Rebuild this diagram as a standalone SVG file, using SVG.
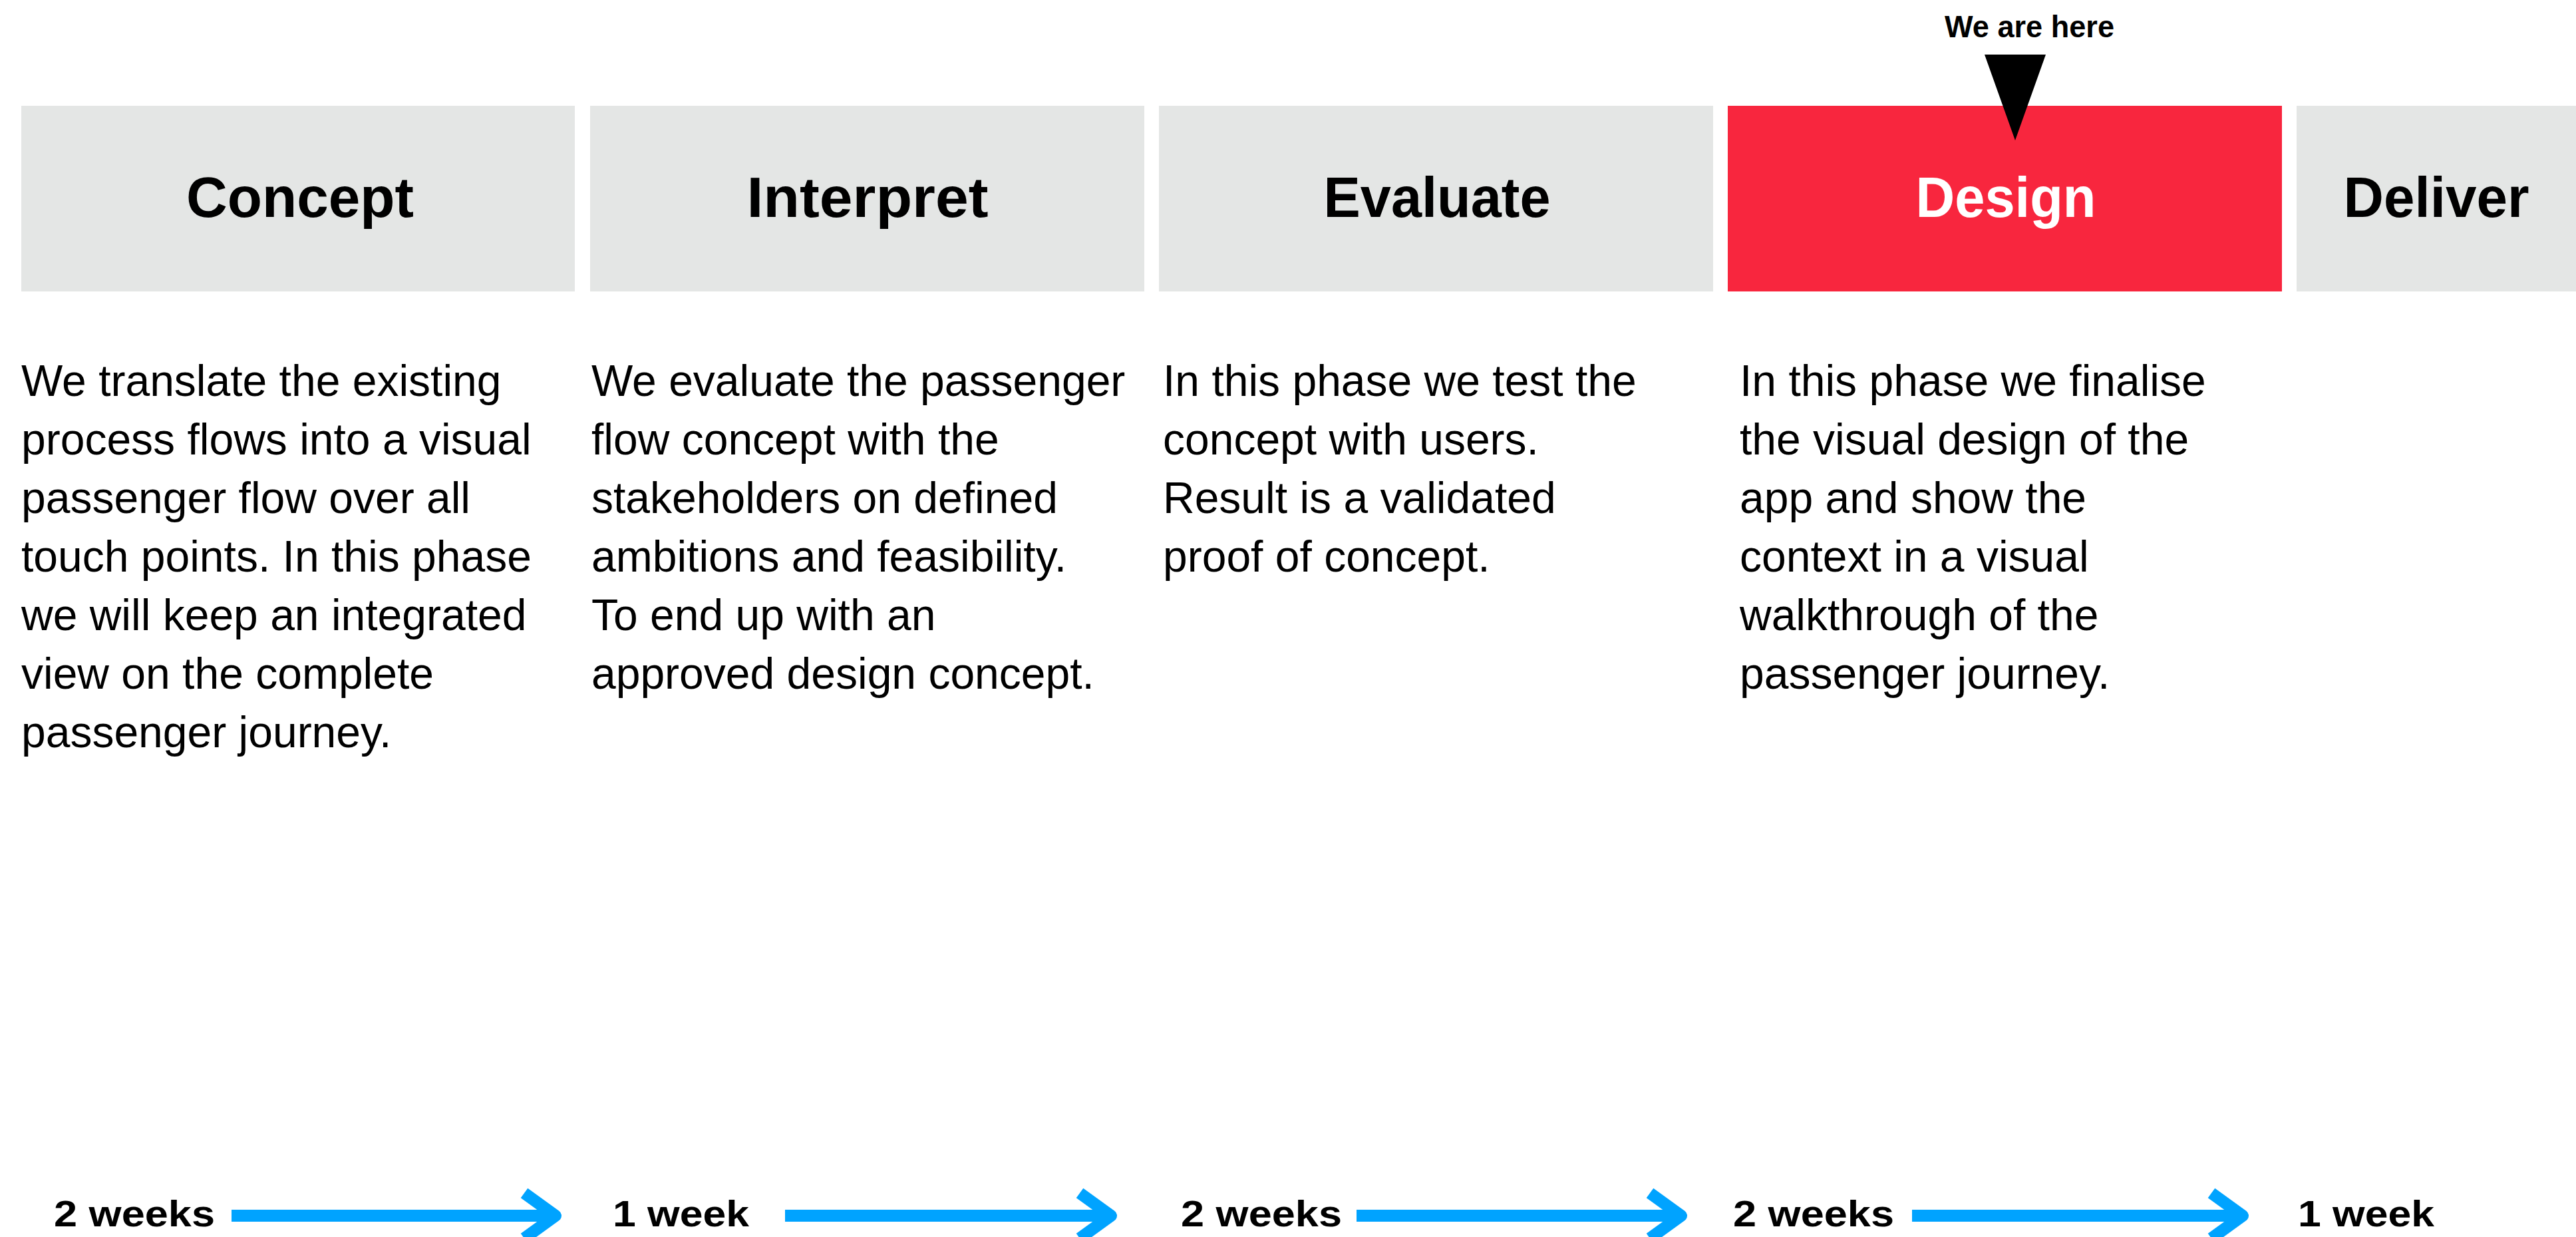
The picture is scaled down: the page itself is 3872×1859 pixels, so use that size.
<svg xmlns="http://www.w3.org/2000/svg" width="3872" height="1859" viewBox="0 0 3872 1859">
<defs>
<style>
.box{fill:#e4e6e5}
.active{fill:#f8263e}
.hdr{font-family:"Liberation Sans",Arial,sans-serif;font-weight:bold;font-size:86px;fill:#000;text-anchor:middle}
.hdrw{fill:#fff}
.body{font-family:"Liberation Sans",Arial,sans-serif;font-size:66px;fill:#000}
.dur{font-family:"Liberation Sans",Arial,sans-serif;font-weight:bold;font-size:56px;fill:#000}
.conn{fill:none;stroke:#00a3ff;stroke-width:18;stroke-linejoin:round;stroke-linecap:butt}
</style>
</defs>
<rect width="3872" height="1859" fill="#fff"/>
<g id="node-concept">
<rect class="box" x="32" y="159" width="832" height="279"/>
<text class="hdr" x="451" y="326" textLength="342" lengthAdjust="spacingAndGlyphs">Concept</text>
<text class="body"><tspan x="32" y="595">We translate the existing</tspan><tspan x="32" y="683">process flows into a visual</tspan><tspan x="32" y="771">passenger flow over all</tspan><tspan x="32" y="859">touch points. In this phase</tspan><tspan x="32" y="947">we will keep an integrated</tspan><tspan x="32" y="1035">view on the complete</tspan><tspan x="32" y="1123">passenger journey.</tspan></text>
</g>
<g id="node-interpret">
<rect class="box" x="887" y="159" width="833" height="279"/>
<text class="hdr" x="1304" y="326" textLength="363" lengthAdjust="spacingAndGlyphs">Interpret</text>
<text class="body"><tspan x="889" y="595">We evaluate the passenger</tspan><tspan x="889" y="683">flow concept with the</tspan><tspan x="889" y="771">stakeholders on defined</tspan><tspan x="889" y="859">ambitions and feasibility.</tspan><tspan x="889" y="947">To end up with an</tspan><tspan x="889" y="1035">approved design concept.</tspan></text>
</g>
<g id="node-evaluate">
<rect class="box" x="1742" y="159" width="833" height="279"/>
<text class="hdr" x="2160" y="326" textLength="341" lengthAdjust="spacingAndGlyphs">Evaluate</text>
<text class="body"><tspan x="1748" y="595">In this phase we test the</tspan><tspan x="1748" y="683">concept with users.</tspan><tspan x="1748" y="771">Result is a validated</tspan><tspan x="1748" y="859">proof of concept.</tspan></text>
</g>
<g id="node-design">
<rect class="active" x="2597" y="159" width="833" height="279"/>
<text class="hdr hdrw" x="3015" y="326" textLength="271" lengthAdjust="spacingAndGlyphs">Design</text>
<text class="body"><tspan x="2615" y="595">In this phase we finalise</tspan><tspan x="2615" y="683">the visual design of the</tspan><tspan x="2615" y="771">app and show the</tspan><tspan x="2615" y="859">context in a visual</tspan><tspan x="2615" y="947">walkthrough of the</tspan><tspan x="2615" y="1035">passenger journey.</tspan></text>
</g>
<g id="node-deliver">
<rect class="box" x="3452" y="159" width="420" height="279"/>
<text class="hdr" x="3662" y="326" textLength="279" lengthAdjust="spacingAndGlyphs">Deliver</text>
</g>
<g id="marker-here">
<text class="dur" x="2923" y="56" font-size="47" style="font-size:47px" textLength="255" lengthAdjust="spacingAndGlyphs">We are here</text>
<polygon points="2983,82 3075,82 3029,211" fill="#000"/>
</g>
<g id="durations">
<text class="dur" x="81" y="1843" textLength="242" lengthAdjust="spacingAndGlyphs">2 weeks</text>
<text class="dur" x="921" y="1843" textLength="205" lengthAdjust="spacingAndGlyphs">1 week</text>
<text class="dur" x="1775" y="1843" textLength="242" lengthAdjust="spacingAndGlyphs">2 weeks</text>
<text class="dur" x="2605" y="1843" textLength="242" lengthAdjust="spacingAndGlyphs">2 weeks</text>
<text class="dur" x="3454" y="1843" textLength="205" lengthAdjust="spacingAndGlyphs">1 week</text>
</g>
<g id="connectors">
<path class="conn" d="M348,1827 H833 M788,1793 L835,1827 L788,1861"/>
<path class="conn" d="M1180,1827 H1668 M1623,1793 L1670,1827 L1623,1861"/>
<path class="conn" d="M2039,1827 H2525 M2480,1793 L2527,1827 L2480,1861"/>
<path class="conn" d="M2874,1827 H3369 M3324,1793 L3371,1827 L3324,1861"/>
</g>
</svg>
